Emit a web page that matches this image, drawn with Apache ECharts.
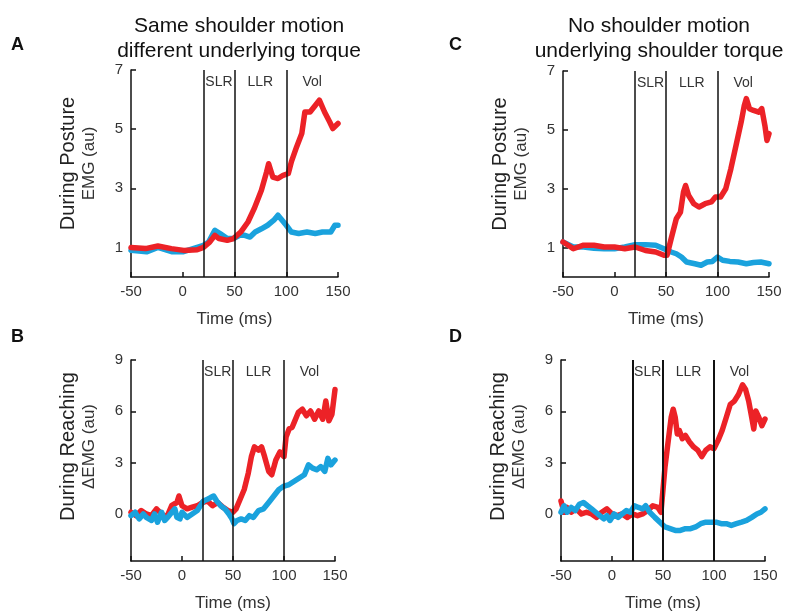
<!DOCTYPE html>
<html>
<head>
<meta charset="utf-8">
<script src="https://cdn.jsdelivr.net/npm/echarts@6/dist/echarts.min.js"></script>
<style>html,body{margin:0;padding:0;background:#fff}#c{width:790px;height:613px}</style>
</head>
<body>
<div id="c"></div>
<script>
// ---------- data ----------
const xTicks = [-50, 0, 50, 100, 150];
const phaseBounds = [20, 50, 100, 150];
const phaseNames = ['SLR', 'LLR', 'Vol'];
const postureTicks = [1, 3, 5, 7];
const reachTicks = [0, 3, 6, 9];

const titleA = ['Same shoulder motion', 'different underlying torque'];
const titleC = ['No shoulder motion', 'underlying shoulder torque'];

// Panel A (posture, same shoulder motion)
const tA_red = [-50,-36,-24,-11,1,14,20,26,31,35,43,49,56,63,69,76,81,83,87,92,97,102,105,110,115,118,123,128,132,137,142,145,150];
const vA_red = [1.0,0.96,1.05,0.96,0.9,0.92,1.0,1.18,1.41,1.3,1.24,1.3,1.52,1.86,2.31,2.93,3.55,3.83,3.38,3.33,3.44,3.5,3.9,4.4,4.85,5.58,5.58,5.8,5.98,5.58,5.24,5.02,5.19];
const tA_blue = [-50,-35,-24,-10,0,10,20,25,31,36,43,49,55,60,65,70,76,82,88,92,96,100,105,112,120,128,135,143,147,150];
const vA_blue = [0.9,0.85,1.0,0.85,0.85,0.96,1.07,1.18,1.58,1.47,1.3,1.3,1.41,1.41,1.35,1.52,1.63,1.75,1.92,2.09,1.92,1.75,1.52,1.47,1.52,1.47,1.52,1.52,1.75,1.75];

// Panel C (posture, no shoulder motion)
const tC_red = [-50,-45,-40,-30,-20,-10,0,10,20,30,40,48,51,55,60,64,67,69,72,77,82,88,94,98,103,108,113,118,123,126,128,131,135,140,143,146,148,150];
const vC_red = [1.19,1.08,0.96,1.08,1.08,1.02,1.02,0.96,1.02,0.9,0.85,0.74,0.74,1.3,1.98,2.2,2.89,3.11,2.77,2.49,2.38,2.49,2.55,2.72,2.72,3.0,3.68,4.47,5.27,5.83,6.06,5.72,5.66,5.6,5.72,5.15,4.64,4.87];
const tC_blue = [-50,-40,-30,-20,-10,0,10,20,30,40,48,55,60,65,70,78,84,90,95,100,105,112,120,128,135,142,150];
const vC_blue = [1.19,1.02,1.02,0.98,0.96,0.96,1.02,1.1,1.1,1.08,0.96,0.85,0.79,0.68,0.51,0.45,0.4,0.51,0.53,0.68,0.57,0.53,0.51,0.45,0.49,0.51,0.45];

// Panel B (reaching, same shoulder motion)
const tB_red = [-50,-45,-40,-35,-30,-25,-20,-15,-10,-5,-3,0,5,10,15,20,25,30,35,40,45,50,53,57,61,65,68,71,75,78,81,85,88,92,96,100,102,105,108,110,114,118,122,126,130,134,138,141,144,147,150];
const vB_red = [0.1,-0.1,0.2,0,-0.1,0.3,0,-0.2,0.5,0.67,1.05,0.48,0.3,0.4,0.48,0.67,0.76,0.48,0.67,0.4,0.2,0.1,0.3,0.86,1.43,2.39,3.35,3.92,3.73,3.92,3.35,2.49,2.29,3.15,3.63,3.35,4.49,4.97,5.07,5.35,5.93,6.12,5.74,6.02,5.54,6.02,5.54,6.6,5.45,5.83,7.27];
const tB_blue = [-50,-46,-42,-38,-35,-30,-27,-24,-20,-17,-14,-10,-7,-5,-2,0,5,10,15,18,21,25,28,31,34,38,42,46,49,51,54,58,62,66,70,75,80,85,90,95,100,105,110,115,120,124,128,132,136,140,143,146,150];
const vB_blue = [-0.1,0.1,-0.29,0,-0.2,-0.38,0,-0.48,0.1,-0.38,-0.2,0.1,0.3,-0.2,-0.29,0.1,-0.2,0,0.2,0.48,0.76,0.86,0.96,1.05,0.76,0.48,0.3,0,-0.29,-0.57,-0.38,-0.29,-0.38,-0.1,-0.2,0.2,0.3,0.67,1.05,1.43,1.63,1.72,1.91,2.1,2.29,2.87,2.68,2.58,2.77,2.49,3.25,2.87,3.15];

// Panel D (reaching, no shoulder motion)
const tD_red = [-50,-47,-44,-40,-35,-30,-25,-20,-15,-10,-5,0,5,10,15,20,25,30,35,40,45,48,50,52,54,56,58,60,62,64,66,69,72,76,80,84,88,92,96,100,104,108,112,116,120,124,128,131,134,137,139,141,144,147,150];
const vD_red = [0.76,0.1,0.38,0.1,0.3,0,0.1,0,-0.2,0.1,0.3,0,-0.1,0,-0.2,0,-0.1,0,0.2,0.48,0.38,0.1,1.43,2.77,3.73,4.68,5.64,6.12,5.64,4.68,4.88,4.4,4.59,4.21,3.92,3.73,3.35,3.73,3.92,3.82,4.3,4.88,5.64,6.41,6.6,6.98,7.55,7.27,6.6,5.64,4.97,6.02,5.64,5.16,5.55];
const tD_blue = [-50,-47,-44,-40,-36,-32,-28,-24,-20,-16,-12,-8,-5,-2,2,6,10,14,18,22,26,30,33,37,42,47,52,57,62,67,72,77,82,87,92,97,102,107,112,117,122,127,132,137,142,146,150];
const vD_blue = [0.1,0.48,0.1,0.38,0.2,0.57,0.67,0.48,0.3,0.1,-0.1,-0.29,-0.1,-0.38,0,-0.2,0,0.2,0.1,0.48,0.38,0.3,0.48,0.1,-0.2,-0.48,-0.76,-0.86,-0.96,-0.96,-0.86,-0.86,-0.76,-0.57,-0.48,-0.48,-0.48,-0.57,-0.57,-0.67,-0.57,-0.48,-0.38,-0.2,0,0.1,0.3];

// ---------- styling / layout ----------
const FONT = '"Liberation Sans", Arial, sans-serif';
const RED = '#ec2227';
const BLUE = '#1aa2dd';
const zip = (t, v) => t.map((x, i) => [x, v[i]]);

const panels = [
  {grid: {left: 131, top: 70, width: 207, height: 207}, yMin: 0, yMax: 7, ticks: postureTicks,
   yName: ['During Posture', 'EMG (au)'], namePad: 20,
   series: [[tA_blue, vA_blue, BLUE], [tA_red, vA_red, RED]], vlw: 1.5},
  {grid: {left: 563, top: 71, width: 206, height: 206}, yMin: 0, yMax: 7, ticks: postureTicks,
   yName: ['During Posture', 'EMG (au)'], namePad: 20,
   series: [[tC_blue, vC_blue, BLUE], [tC_red, vC_red, RED]], vlw: 1.5},
  {grid: {left: 131, top: 360, width: 204, height: 205}, yMin: -2.75, yMax: 9, ticks: reachTicks,
   yName: ['During Reaching', '\u0394EMG (au)'], namePad: 28,
   series: [[tB_red, vB_red, RED], [tB_blue, vB_blue, BLUE]], vlw: 1.5},
  {grid: {left: 561, top: 360, width: 204, height: 206}, yMin: -2.75, yMax: 9, ticks: reachTicks,
   yName: ['During Reaching', '\u0394EMG (au)'], namePad: 28,
   series: [[tD_red, vD_red, RED], [tD_blue, vD_blue, BLUE]], vlw: 2}
];

const grids = [], xAxes = [], yAxes = [], series = [];
panels.forEach((p, i) => {
  grids.push(Object.assign({containLabel: false}, p.grid));
  xAxes.push({
    type: 'value', gridIndex: i, min: xTicks[0], max: xTicks[xTicks.length - 1], interval: 50,
    axisLine: {onZero: false, lineStyle: {color: '#111', width: 1.5}},
    axisTick: {inside: true, length: 5, lineStyle: {color: '#111', width: 1.5}},
    axisLabel: {fontSize: 15, color: '#333', margin: 7, fontFamily: FONT},
    splitLine: {show: false},
    name: 'Time (ms)', nameLocation: 'middle', nameGap: 34,
    nameTextStyle: {fontSize: 17, color: '#333', fontFamily: FONT}
  });
  yAxes.push({
    type: 'value', gridIndex: i, min: p.yMin, max: p.yMax,
    axisLine: {show: true, onZero: false, lineStyle: {color: '#111', width: 1.5}},
    axisTick: {inside: true, length: 5, customValues: p.ticks, lineStyle: {color: '#111', width: 1.5}},
    axisLabel: {fontSize: 15, color: '#333', margin: 8, fontFamily: FONT, customValues: p.ticks},
    splitLine: {show: false},
    name: '{a|' + p.yName[0] + '}\n{b|' + p.yName[1] + '}',
    nameLocation: 'middle', nameRotate: 90, nameGap: 32,
    nameTextStyle: {
      fontFamily: FONT, padding: [0, 0, 0, p.namePad],
      rich: {
        a: {fontSize: 20, color: '#222', fontFamily: FONT, lineHeight: 22},
        b: {fontSize: 17, color: '#333', fontFamily: FONT, lineHeight: 20}
      }
    }
  });
  p.series.forEach((s, k) => {
    const ser = {
      type: 'line', xAxisIndex: i, yAxisIndex: i, data: zip(s[0], s[1]),
      showSymbol: false, symbol: 'none', smooth: false,
      lineStyle: {color: s[2], width: 5.5, join: 'round', cap: 'round'},
      z: 2 + k, silent: true
    };
    if (k === 0) {
      ser.markLine = {
        silent: true, symbol: 'none', label: {show: false},
        lineStyle: {color: '#111', width: p.vlw, type: 'solid'},
        data: phaseBounds.slice(0, 3).map(b => ({xAxis: b}))
      };
      ser.markArea = {
        silent: true, itemStyle: {color: 'rgba(0,0,0,0)'},
        label: {show: true, position: 'insideTop', distance: 5, fontSize: 14, color: '#333', fontFamily: FONT},
        data: phaseNames.map((n, j) => [{name: n, xAxis: phaseBounds[j]}, {xAxis: phaseBounds[j + 1]}])
      };
    }
    series.push(ser);
  });
});

const titles = [
  {text: titleA.join('\n'), left: 239, top: 14, textAlign: 'center'},
  {text: titleC.join('\n'), left: 659, top: 14, textAlign: 'center'},
].map(t => Object.assign(t, {padding: 0, textStyle: {fontSize: 21, lineHeight: 25, color: '#111', fontWeight: 'normal', fontFamily: FONT}}));

const letters = [['A', 11, 36], ['C', 449, 36], ['B', 11, 328], ['D', 449, 328]].map(l => ({
  text: l[0], left: l[1], top: l[2], padding: 0,
  textStyle: {fontSize: 18, fontWeight: 'bold', color: '#111', fontFamily: FONT}
}));

const chart = echarts.init(document.getElementById('c'), null, {renderer: 'canvas'});
chart.setOption({
  animation: false,
  backgroundColor: '#fff',
  title: titles.concat(letters),
  grid: grids, xAxis: xAxes, yAxis: yAxes, series: series
});
</script>
</body>
</html>
